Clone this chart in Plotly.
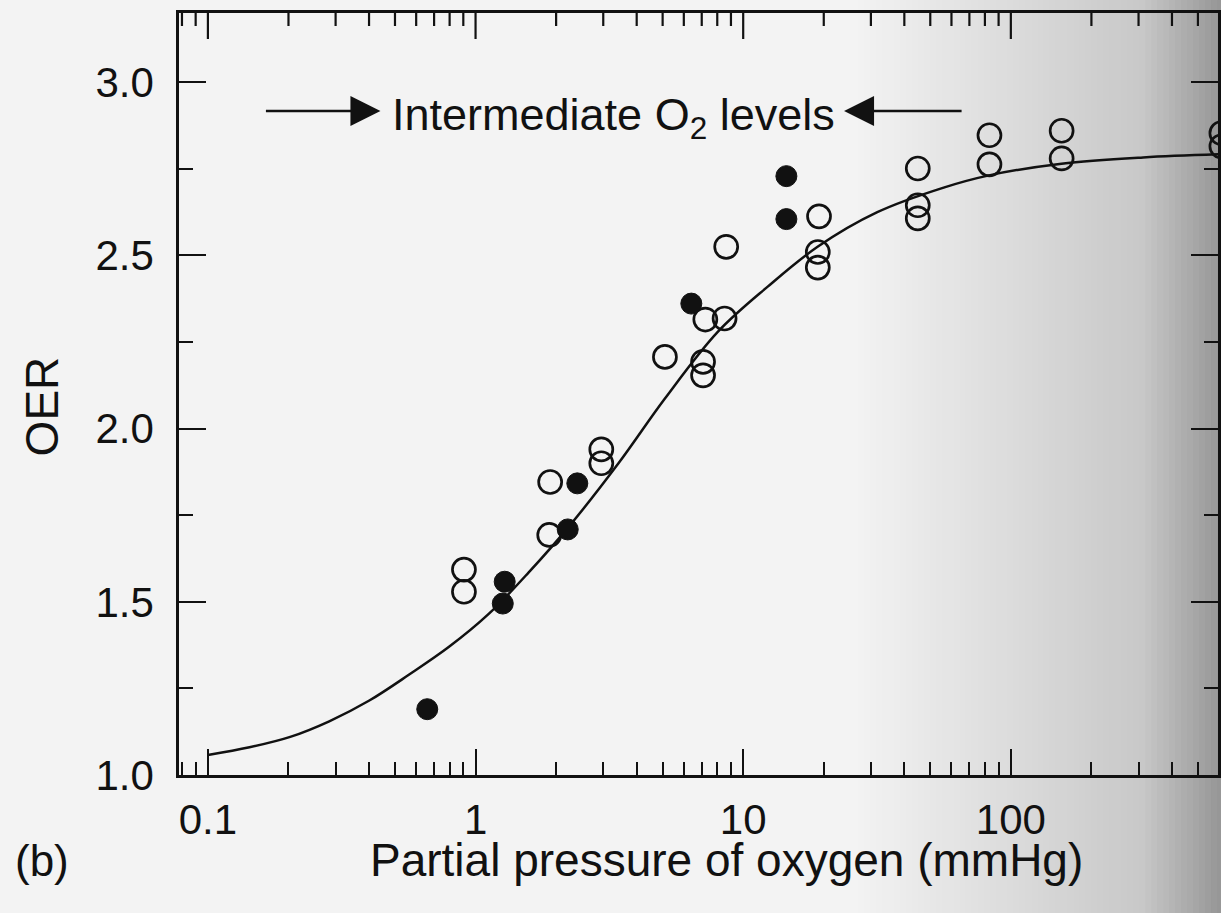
import math
import plotly.graph_objects as go

# ---- data ----
open_x = [0.905, 0.905, 1.90, 1.885, 2.95, 2.95, 5.10, 7.08, 7.08, 7.22, 8.52, 8.64,
          19.2, 19.0, 19.0, 44.9, 44.9, 44.9, 83.2, 83.2, 154.8, 154.8, 612, 612]
open_y = [1.593, 1.529, 1.846, 1.693, 1.94, 1.90, 2.207, 2.193, 2.154, 2.315, 2.318, 2.525,
          2.613, 2.510, 2.465, 2.751, 2.645, 2.607, 2.847, 2.763, 2.860, 2.780, 2.853, 2.815]

filled_x = [0.66, 1.264, 1.285, 2.21, 2.40, 6.40, 14.5, 14.5]
filled_y = [1.19, 1.495, 1.558, 1.709, 1.842, 2.361, 2.729, 2.605]

curve_x = [0.1, 0.143, 0.203, 0.284, 0.401, 0.565, 0.796, 1.12, 1.58, 2.22, 3.42, 5.10,
           8.05, 12.35, 18.96, 31.7, 56.1, 83.7, 154.6, 312, 600]
curve_y = [1.058, 1.08, 1.11, 1.155, 1.215, 1.29, 1.37, 1.465, 1.585, 1.715, 1.90, 2.087,
           2.28, 2.41, 2.525, 2.625, 2.696, 2.732, 2.765, 2.783, 2.792]

x_major = [0.1, 1, 10, 100]
x_major_text = ["0.1", "1", "10", "100"]
x_minor = [0.08, 0.09] + [m * d for d in (0.1, 1, 10) for m in range(2, 10)] + [200, 300, 400, 500, 600]
y_major = [1.0, 1.5, 2.0, 2.5, 3.0]
y_major_text = ["1.0", "1.5", "2.0", "2.5", "3.0"]
y_minor = [1.25, 1.75, 2.25, 2.75]

FONT = "Liberation Sans, Arial, sans-serif"
INK = "#111111"

W, H = 1221, 913
L, T, B, R = 179, 13, 138, 0
pw = W - L - R
ph = H - T - B
X_RANGE = [-1.108, 2.774]
MAJOR_LEN, MINOR_LEN = 26, 13

def px_to_paper_x(px):
    return (px - L) / pw

def px_to_paper_y(py):
    return (H - B - py) / ph

def val_to_paper_x(v):
    return (math.log10(v) - X_RANGE[0]) / (X_RANGE[1] - X_RANGE[0])

fig = go.Figure()

fig.add_trace(go.Scatter(x=curve_x, y=curve_y, mode="lines",
                         line=dict(color=INK, width=2.5, shape="spline", smoothing=1.0),
                         hoverinfo="skip", showlegend=False))
fig.add_trace(go.Scatter(x=open_x, y=open_y, mode="markers",
                         marker=dict(symbol="circle", size=23, color="rgba(0,0,0,0)",
                                     line=dict(color=INK, width=2.7)),
                         showlegend=False))
fig.add_trace(go.Scatter(x=filled_x, y=filled_y, mode="markers",
                         marker=dict(symbol="circle", size=21, color=INK,
                                     line=dict(color=INK, width=1)),
                         showlegend=False))

# background gradient on the right (scan shading)
shapes = []
x0 = 860
step = 6
while x0 < W:
    x1 = min(x0 + step, W + 2)
    t = (x0 - 860) / (W - 860)
    if t < 0.78:
        g = 242 - 42 * (t / 0.78)
    else:
        g = 200 - 50 * ((t - 0.78) / 0.22)
    g = int(round(g))
    shapes.append(dict(type="rect", xref="paper", yref="paper",
                       x0=px_to_paper_x(x0), x1=px_to_paper_x(x1 + 1),
                       y0=-0.2, y1=1.03, line=dict(width=0),
                       fillcolor=f"rgb({g},{g},{g})", layer="below"))
    x0 = x1

# mirrored tick marks along the top frame, placed from the tick value lists
for vals, ln in ((x_major, MAJOR_LEN), (x_minor, MINOR_LEN)):
    for v in vals:
        xp = val_to_paper_x(v)
        if 0 <= xp <= 1:
            shapes.append(dict(type="line", xref="paper", yref="paper",
                               x0=xp, x1=xp, y0=1, y1=1 - ln / ph,
                               line=dict(color=INK, width=2.2), layer="above"))

fig.update_layout(
    width=W, height=H,
    margin=dict(l=L, r=R, t=T, b=B),
    paper_bgcolor="#f3f3f3",
    plot_bgcolor="rgba(0,0,0,0)",
    shapes=shapes,
    font=dict(family=FONT, color=INK),
    showlegend=False,
    xaxis=dict(
        type="log", range=X_RANGE,
        tickmode="array", tickvals=x_major, ticktext=x_major_text,
        ticks="inside", ticklen=MAJOR_LEN, tickwidth=2.2, tickcolor=INK,
        minor=dict(tickmode="array", tickvals=x_minor, ticks="inside", ticklen=MINOR_LEN,
                   tickwidth=2.2, tickcolor=INK, showgrid=False),
        showline=True, linecolor=INK, linewidth=2.5, mirror=True,
        showgrid=False, zeroline=False,
        tickfont=dict(size=42, family=FONT, color=INK), ticklabelstandoff=6,
    ),
    yaxis=dict(
        range=[1.0, 3.2],
        tickmode="array", tickvals=y_major, ticktext=y_major_text,
        ticks="inside", ticklen=27, tickwidth=2.2, tickcolor=INK,
        minor=dict(tickmode="array", tickvals=y_minor, ticks="inside", ticklen=14,
                   tickwidth=2.2, tickcolor=INK, showgrid=False),
        showgrid=False, zeroline=False,
        showline=True, linecolor=INK, linewidth=2.5, mirror="ticks",
        tickfont=dict(size=42, family=FONT, color=INK), ticklabelstandoff=14,
    ),
)

ann = []
ann.append(dict(text="Partial pressure of oxygen (mmHg)", xref="paper", yref="paper",
                x=px_to_paper_x(728), y=px_to_paper_y(860), showarrow=False,
                xanchor="center", yanchor="middle", font=dict(size=46, family=FONT, color=INK)))
ann.append(dict(text="OER", xref="paper", yref="paper",
                x=px_to_paper_x(42), y=px_to_paper_y(406), showarrow=False, textangle=-90,
                xanchor="center", yanchor="middle", font=dict(size=46, family=FONT, color=INK)))
ann.append(dict(text="(b)", xref="paper", yref="paper",
                x=px_to_paper_x(42), y=px_to_paper_y(860), showarrow=False,
                xanchor="center", yanchor="middle", font=dict(size=44, family=FONT, color=INK)))
ann.append(dict(text="Intermediate O<sub>2</sub> levels", xref="paper", yref="paper",
                x=px_to_paper_x(615), y=px_to_paper_y(118), showarrow=False,
                xanchor="center", yanchor="middle", font=dict(size=45, family=FONT, color=INK)))
# arrows
ann.append(dict(text="", xref="paper", yref="paper",
                x=px_to_paper_x(381), y=px_to_paper_y(111), ax=265 - 381, ay=0,
                showarrow=True, arrowhead=2, arrowsize=2.4, arrowwidth=2.5, arrowcolor=INK, standoff=0))
ann.append(dict(text="", xref="paper", yref="paper",
                x=px_to_paper_x(846), y=px_to_paper_y(111), ax=965 - 846, ay=0,
                showarrow=True, arrowhead=2, arrowsize=2.4, arrowwidth=2.5, arrowcolor=INK, standoff=0))
fig.update_layout(annotations=ann)

fig.write_html("out.html")
